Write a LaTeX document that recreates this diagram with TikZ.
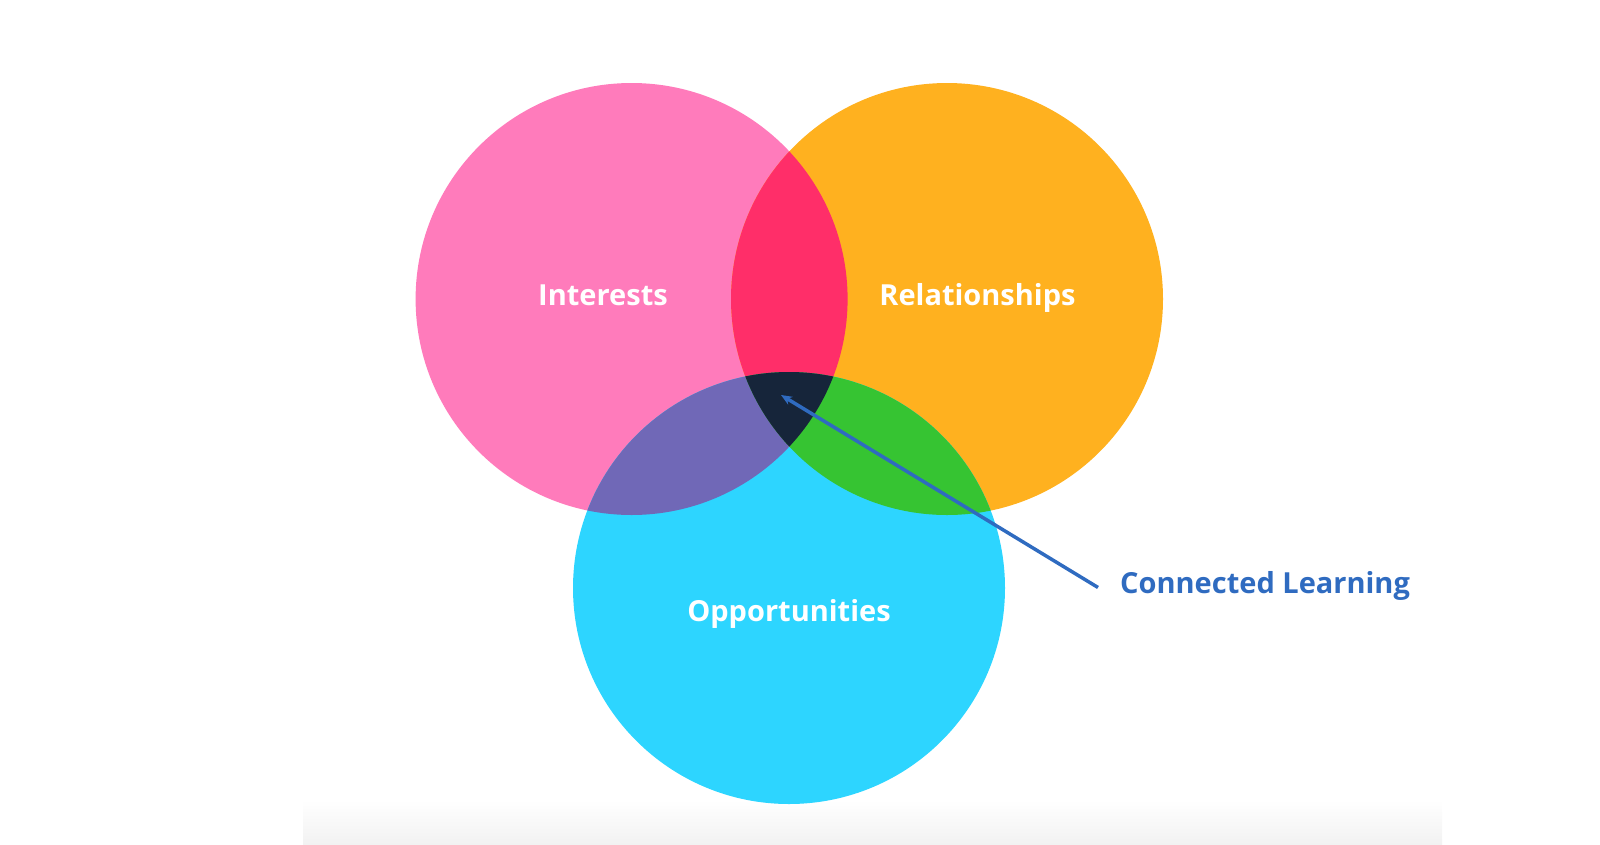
\documentclass[tikz,border=0pt]{standalone}
\usepackage{fontspec}
\setmainfont{Open Sans}
\usetikzlibrary{arrows.meta}
\definecolor{cpink}{HTML}{FF7BBB}
\definecolor{corange}{HTML}{FFB11F}
\definecolor{ccyan}{HTML}{2DD5FF}
\definecolor{cred}{HTML}{FF2E69}
\definecolor{cpurple}{HTML}{7068B7}
\definecolor{cgreen}{HTML}{36C432}
\definecolor{cnavy}{HTML}{16253A}
\definecolor{cblue}{HTML}{2F6BC0}
\definecolor{cgrey}{HTML}{F2F2F2}
\tikzset{
  lbl/.style={text=white,font=\bfseries\fontsize{29}{33}\selectfont,inner sep=0pt,anchor=base},
  callout/.style={text=cblue,font=\bfseries\fontsize{29}{33}\selectfont,inner sep=0pt,anchor=base west},
  pointer/.style={draw=cblue,line width=3.5pt,-{Stealth[length=11pt,width=9pt]}}
}
\begin{document}
\begin{tikzpicture}[x=1pt,y=-1pt]
\useasboundingbox (0,0) rectangle (1600,844);
\shade[top color=white,bottom color=cgrey] (303,800) rectangle (1442,844);
\def\ri{(631.6,299) circle (216)}
\def\rr{(947,299) circle (216)}
\def\ro{(789,588) circle (216)}
\fill[cpink] \ri;
\fill[corange] \rr;
\fill[ccyan] \ro;
\begin{scope}\clip \ri; \fill[cred] \rr; \end{scope}
\begin{scope}\clip \ri; \fill[cpurple] \ro; \end{scope}
\begin{scope}\clip \rr; \fill[cgreen] \ro; \end{scope}
\begin{scope}\clip \ri; \clip \rr; \fill[cnavy] \ro; \end{scope}
\node[lbl] (int) at (603,305) {Interests};
\node[lbl] (rel) at (977.5,305) {Relationships};
\node[lbl] (opp) at (789,621) {Opportunities};
\node[callout] (cl) at (1120,593) {Connected Learning};
\coordinate (tip) at (781,395);
\draw[pointer] ([xshift=-22pt,yshift=-2pt]cl.west) -- (tip);
\end{tikzpicture}
\end{document}
